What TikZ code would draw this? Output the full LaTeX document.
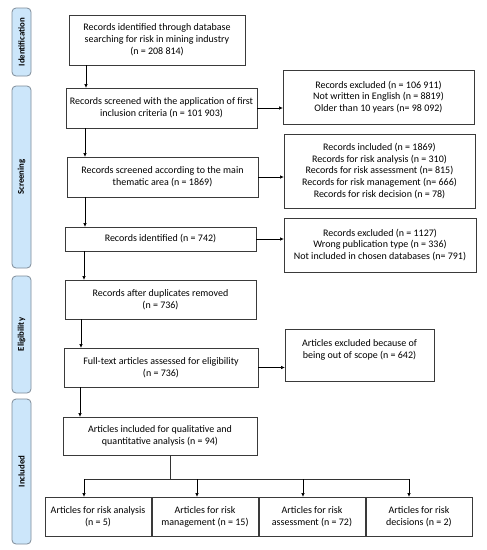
\documentclass[tikz,border=0pt]{standalone}
\usepackage{fontspec}
\setmainfont{Carlito}
\usetikzlibrary{arrows.meta,calc}
\definecolor{barfill}{HTML}{CCE6FA}
\definecolor{barline}{HTML}{7F8C99}
\definecolor{boxline}{HTML}{3A3A3A}
\begin{document}
\begin{tikzpicture}[x=1pt,y=-1pt,
  box/.style={draw=boxline,line width=0.8pt,rectangle,inner sep=0pt,outer sep=0pt,align=center,
    font=\fontsize{10pt}{11.8pt}\selectfont},
  bar/.style={draw=barline,fill=barfill,line width=0.8pt,rounded corners=4pt,inner sep=0pt,outer sep=0pt,
    minimum width=19pt},
  barlbl/.style={rotate=90,font=\fontsize{8.8pt}{10pt}\selectfont\bfseries},
  arr/.style={draw=black,line width=0.7pt,-{Latex[length=4pt,width=3.5pt]}},
  ln/.style={draw=black!80,line width=0.7pt}]
\useasboundingbox (0,0) rectangle (487,550);
\fill[white] (0,0) rectangle (487,550);

% side bars
\node[bar,minimum height=68pt] (sid) at (21.5,42) {};
\node[barlbl] (lid) at (sid.center) {Identification};
\node[bar,minimum height=182pt] (ssc) at (21.5,177) {};
\node[barlbl] (lsc) at (ssc.center) {Screening};
\node[bar,minimum height=117pt] (sel) at (21.5,334.5) {};
\node[barlbl] (lel) at (sel.center) {Eligibility};
\node[bar,minimum height=145pt] (sin) at (21.5,471.5) {};
\node[barlbl] (lin) at (sin.center) {Included};

% main column
\node[box,minimum width=176pt,minimum height=50pt] (b1) at (157,40)
  {Records identified through database\\searching for risk in mining industry\\(n = 208 814)};
\node[box,minimum width=191pt,minimum height=40pt] (b2) at (161.5,108)
  {Records screened with the application of first\\inclusion criteria (n = 101 903)};
\node[box,minimum width=191pt,minimum height=40pt] (b3) at (162.5,177)
  {Records screened according to the main\\thematic area (n = 1869)};
\node[box,minimum width=191pt,minimum height=24pt] (b4) at (160.5,239)
  {Records identified (n = 742)};
\node[box,minimum width=191pt,minimum height=39pt] (b5) at (160.5,299.5)
  {Records after duplicates removed\\(n = 736)};
\node[box,minimum width=194pt,minimum height=39pt] (b6) at (161,367.5)
  {Full-text articles assessed for eligibility\\(n = 736)};
\node[box,minimum width=194pt,minimum height=38pt] (b7) at (160,436)
  {Articles included for qualitative and\\quantitative analysis (n = 94)};

% right column
\node[box,minimum width=191pt,minimum height=54pt] (e1) at (378.5,97)
  {Records excluded (n = 106 911)\\Not written in English (n = 8819)\\Older than 10 years (n= 98 092)};
\node[box,minimum width=191pt,minimum height=74pt] (e2) at (379.5,171)
  {Records included (n = 1869)\\Records for risk analysis (n = 310)\\Records for risk assessment (n= 815)\\Records for risk management (n= 666)\\Records for risk decision (n = 78)};
\node[box,minimum width=192pt,minimum height=54pt] (e3) at (380,245)
  {Records excluded (n = 1127)\\Wrong publication type (n = 336)\\Not included in chosen databases (n= 791)};
\node[box,minimum width=149pt,minimum height=52pt] (e4) at (359.5,355)
  {Articles excluded because of\\being out of scope (n = 642)\\\mbox{}};

% bottom row
\node[box,minimum width=106pt,minimum height=39pt] (c1) at (98,516.5)
  {Articles for risk analysis\\(n = 5)};
\node[box,minimum width=106pt,minimum height=39pt] (c2) at (205,516.5)
  {Articles for risk\\management (n = 15)};
\node[box,minimum width=106pt,minimum height=39pt] (c3) at (312,516.5)
  {Articles for risk\\assessment (n = 72)};
\node[box,minimum width=106pt,minimum height=39pt] (c4) at (419,516.5)
  {Articles for risk\\decisions (n = 2)};

% x positions of vertical arrows
\coordinate (x1) at (86,0);
\coordinate (x2) at (85,0);
\coordinate (x3) at (85,0);
\coordinate (x4) at (84,0);
\coordinate (x5) at (81,0);
\coordinate (x6) at (80,0);
\coordinate (xs) at (170,0);
\coordinate (xa) at (84,479);
\coordinate (xb) at (197,479);
\coordinate (xc) at (303,479);
\coordinate (xd) at (409,479);

\draw[arr] (x1 |- b1.south) -- (x1 |- b2.north);
\draw[arr] (x2 |- b2.south) -- (x2 |- b3.north);
\draw[arr] (x3 |- b3.south) -- (x3 |- b4.north);
\draw[arr] (x4 |- b4.south) -- (x4 |- b5.north);
\draw[arr] (x5 |- b5.south) -- (x5 |- b6.north);
\draw[arr] (x6 |- b6.south) -- (x6 |- b7.north);

\draw[arr] (b2.east) -- (b2.east -| e1.west);
\draw[arr] (b3.east) -- (b3.east -| e2.west);
\draw[arr] (b4.east) -- (b4.east -| e3.west);
\draw[arr] (b6.east) -- (b6.east -| e4.west);

\draw[ln] (xs |- b7.south) -- (xs |- xa);
\draw[ln] (xa) -- (xd);
\draw[arr] (xa) -- (xa |- c1.north);
\draw[arr] (xb) -- (xb |- c2.north);
\draw[arr] (xc) -- (xc |- c3.north);
\draw[arr] (xd) -- (xd |- c4.north);
\end{tikzpicture}
\end{document}
